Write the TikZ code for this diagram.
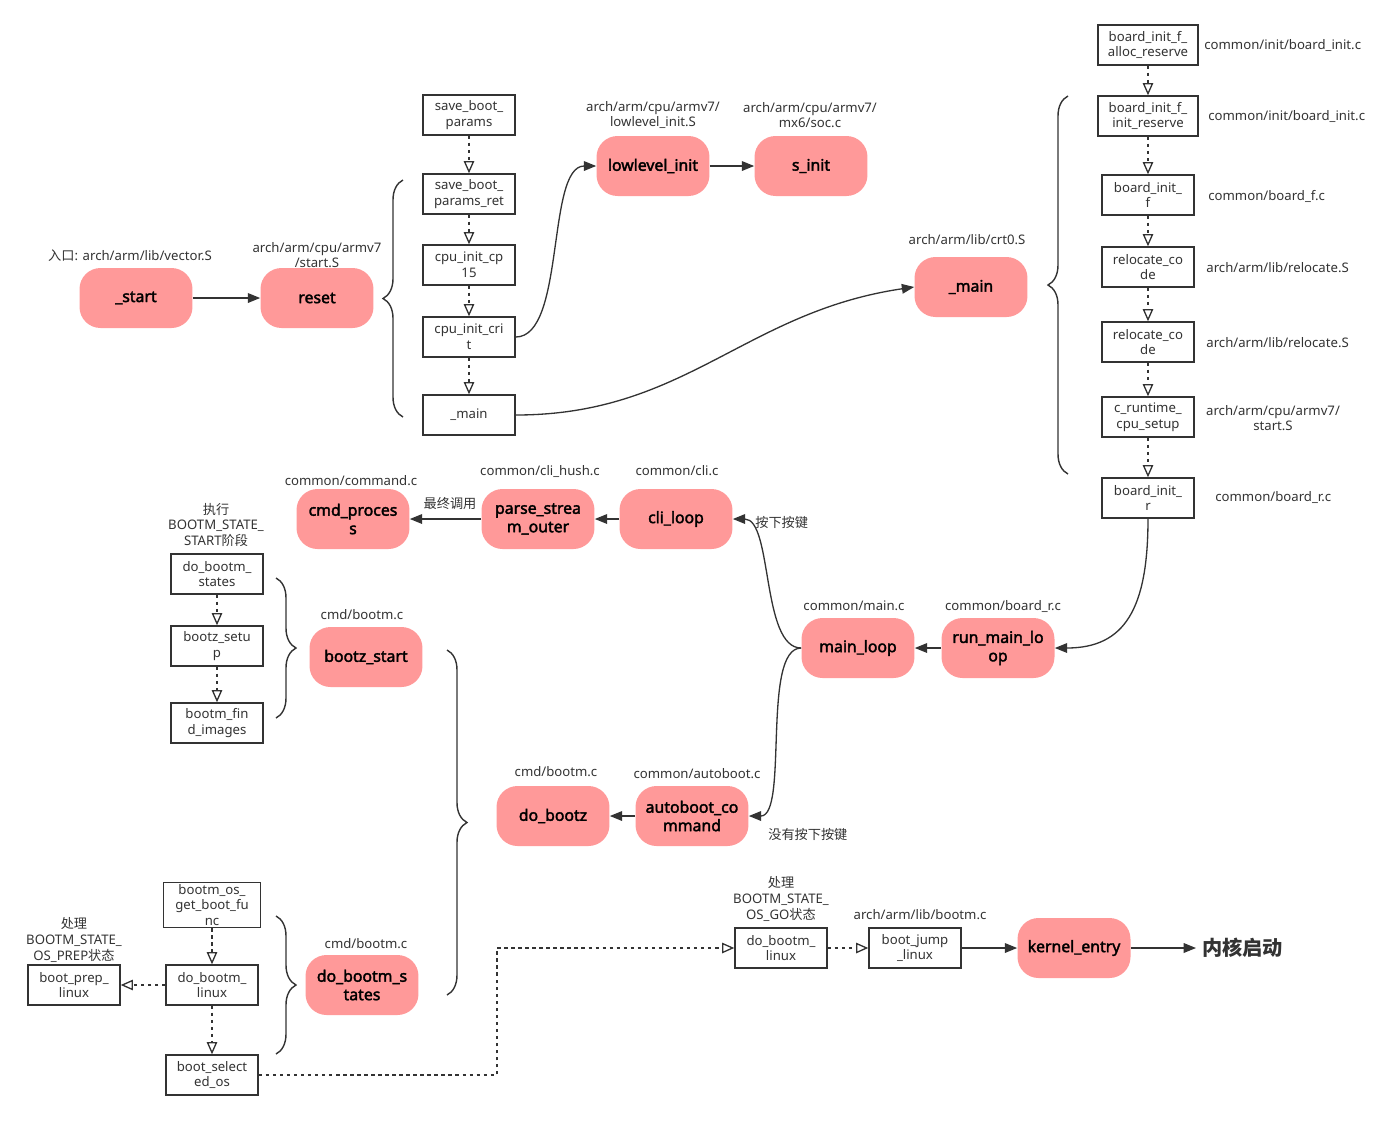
\documentclass[tikz,border=0pt]{standalone}
\usepackage{fontspec}
\setmainfont{Noto Sans}[AutoFakeBold=2.2]
\newfontfamily\cjk{Noto Sans CJK SC}
\usetikzlibrary{arrows.meta,decorations.pathreplacing}

\definecolor{nodepink}{HTML}{FF9999}
\definecolor{linegray}{HTML}{333333}
\definecolor{txtgray}{HTML}{333333}

\tikzset{
	func/.style={fill=nodepink, rounded corners=0.42cm, minimum width=2.26cm, minimum height=1.2cm, align=center, font=\fontsize{9}{10.5}\selectfont\bfseries, text=black, inner sep=1pt},
	fbox/.style={draw=linegray, line width=0.8pt, fill=white, minimum width=1.84cm, minimum height=0.8cm, align=center, font=\fontsize{7.5}{9}\selectfont, text=txtgray, inner sep=1pt},
	note/.style={align=center, font=\fontsize{7.5}{9}\selectfont, text=txtgray, inner sep=0pt},
	call/.style={draw=linegray, line width=0.75pt, -{Triangle[length=7pt,width=5.5pt]}},
	sub/.style={draw=linegray, line width=0.75pt, dash pattern=on 2pt off 2pt, -{Triangle[open,length=7pt,width=6pt]}},
	grp/.style={draw=linegray, line width=0.8pt, decorate, decoration={brace,amplitude=0.4cm}}
}

\begin{document}
\begin{tikzpicture}[x=0.02cm, y=-0.02cm]
		\useasboundingbox (0,0) rectangle (1400,1120);

		\node[func] (start)    at (136,298)  {\_start};
		\node[func] (reset)    at (317,298)  {reset};
		\node[func] (llinit)   at (653,166)  {lowlevel\_init};
		\node[func] (sinit)    at (811,166)  {s\_init};
		\node[func] (mainpink) at (971,287)  {\_main};
		\node[func] (cmdproc)  at (353,519)  {cmd\_proces\\s};
		\node[func] (parse)    at (538,519)  {parse\_strea\\m\_outer};
		\node[func] (cliloop)  at (676,519)  {cli\_loop};
		\node[func] (bzstart)  at (366,657)  {bootz\_start};
		\node[func] (mainloop) at (858,648)  {main\_loop};
		\node[func] (runml)    at (998,648)  {run\_main\_lo\\op};
		\node[func] (dobootz)  at (553,816)  {do\_bootz};
		\node[func] (autoboot) at (692,816)  {autoboot\_co\\mmand};
		\node[func] (dbstates) at (362,985)  {do\_bootm\_s\\tates};
		\node[func] (kentry)   at (1074,948) {kernel\_entry};

		\node[fbox] (sbp)      at (469,115)  {save\_boot\_\\params};
		\node[fbox] (sbpr)     at (469,194)  {save\_boot\_\\params\_ret};
		\node[fbox] (cp15)     at (469,265)  {cpu\_init\_cp\\15};
		\node[fbox] (crit)     at (469,337)  {cpu\_init\_cri\\t};
		\node[fbox] (mainbox)  at (469,415)  {\_main};

		\node[fbox, minimum width=2cm] (allocres) at (1148,45)  {board\_init\_f\_\\alloc\_reserve};
		\node[fbox, minimum width=2cm] (initres)  at (1148,116) {board\_init\_f\_\\init\_reserve};
		\node[fbox] (bif)      at (1148,195) {board\_init\_\\f};
		\node[fbox] (relocA)   at (1148,267) {relocate\_co\\de};
		\node[fbox] (relocB)   at (1148,342) {relocate\_co\\de};
		\node[fbox] (crt)      at (1148,417) {c\_runtime\_\\cpu\_setup};
		\node[fbox] (bir)      at (1148,498) {board\_init\_\\r};

		\node[fbox] (dbs)      at (217,574)  {do\_bootm\_\\states};
		\node[fbox] (bzsetup)  at (217,646)  {bootz\_setu\\p};
		\node[fbox] (findimg)  at (217,723)  {bootm\_fin\\d\_images};

		\node[fbox, minimum width=1.94cm, minimum height=0.9cm, inner ysep=-1pt] (getfunc) at (212,905) {bootm\_os\_\\get\_boot\_fu\\nc};
		\node[fbox] (linuxprep) at (212,985) {do\_bootm\_\\linux};
		\node[fbox] (prep)      at (74,985)  {boot\_prep\_\\linux};
		\node[fbox] (selos)     at (212,1075) {boot\_select\\ed\_os};
		\node[fbox] (golinux)   at (781,948) {do\_bootm\_\\linux};
		\node[fbox] (jump)      at (915,948) {boot\_jump\\\_linux};

		\node[font=\fontsize{11.5}{13}\selectfont\cjk\bfseries, text=txtgray, anchor=west] (boot) at (1196,948) {内核启动};

		\node[note] (nstart)  at (130,256)  {{\cjk 入口}: arch/arm/lib/vector.S};
		\node[note] (nreset)  at (317,255)  {arch/arm/cpu/armv7\\/start.S};
		\node[note] (nllinit) at (653,115)  {arch/arm/cpu/armv7/\\lowlevel\_init.S};
		\node[note] (nsinit)  at (810,115)  {arch/arm/cpu/armv7/\\mx6/soc.c};
		\node[note] (nmain)   at (967,240)  {arch/arm/lib/crt0.S};
		\node[note, anchor=west] (nalloc) at (1204,46)  {common/init/board\_init.c};
		\node[note, anchor=west] (ninit)  at (1208,117) {common/init/board\_init.c};
		\node[note, anchor=west] (nbif)   at (1208,196) {common/board\_f.c};
		\node[note, anchor=west] (nrelA)  at (1206,268) {arch/arm/lib/relocate.S};
		\node[note, anchor=west] (nrelB)  at (1206,343) {arch/arm/lib/relocate.S};
		\node[note] (ncrt)    at (1273,418) {arch/arm/cpu/armv7/\\start.S};
		\node[note, anchor=west] (nbir)   at (1215,497) {common/board\_r.c};
		\node[note] (ncmd)    at (351,481)  {common/command.c};
		\node[note] (nparse)  at (540,471)  {common/cli\_hush.c};
		\node[note] (ncli)    at (677,471)  {common/cli.c};
		\node[note] (nfinal)  at (450,504)  {\cjk 最终调用};
		\node[note, anchor=west] (npress) at (755,522) {\cjk 按下按键};
		\node[note] (nstage)  at (216,525)  {{\cjk 执行}\\BOOTM\_STATE\_\\START{\cjk 阶段}};
		\node[note] (nbz)     at (362,615)  {cmd/bootm.c};
		\node[note] (nml)     at (854,606)  {common/main.c};
		\node[note] (nrun)    at (1003,606) {common/board\_r.c};
		\node[note] (ndobz)   at (556,772)  {cmd/bootm.c};
		\node[note] (nauto)   at (697,774)  {common/autoboot.c};
		\node[note, anchor=west] (nnokey) at (768,834) {\cjk 没有按下按键};
		\node[note] (nprep)   at (74,940)   {{\cjk 处理}\\BOOTM\_STATE\_\\OS\_PREP{\cjk 状态}};
		\node[note] (ndbs)    at (366,944)  {cmd/bootm.c};
		\node[note] (ngo)     at (781,899)  {{\cjk 处理}\\BOOTM\_STATE\_\\OS\_GO{\cjk 状态}};
		\node[note] (njump)   at (920,915)  {arch/arm/lib/bootm.c};

		\coordinate (turn) at (497,1010);

		\draw[call] (start) -- (reset);
		\draw[sub] (sbp) -- (sbpr);
		\draw[sub] (sbpr) -- (cp15);
		\draw[sub] (cp15) -- (crit);
		\draw[sub] (crit) -- (mainbox);
		\draw[call] (crit.east) .. controls +(50,0) and +(-50,0) .. (llinit.west);
		\draw[call] (llinit) -- (sinit);
		\draw[call] (mainbox.east) .. controls +(170,0) and +(-170,25) .. (mainpink.west);

		\draw[sub] (allocres) -- (initres);
		\draw[sub] (initres) -- (bif);
		\draw[sub] (bif) -- (relocA);
		\draw[sub] (relocA) -- (relocB);
		\draw[sub] (relocB) -- (crt);
		\draw[sub] (crt) -- (bir);

		\draw[call] (bir.south) .. controls +(0,90) and +(70,0) .. (runml.east);
		\draw[call] (runml) -- (mainloop);
		\draw[call] (mainloop.west) .. controls +(-40,0) and +(40,0) .. (cliloop.east);
		\draw[call] (mainloop.west) .. controls +(-40,0) and +(40,0) .. (autoboot.east);
		\draw[call] (cliloop) -- (parse);
		\draw[call] (parse) -- (cmdproc);
		\draw[call] (autoboot) -- (dobootz);

		\draw[sub] (dbs) -- (bzsetup);
		\draw[sub] (bzsetup) -- (findimg);
		\draw[sub] (getfunc) -- (linuxprep);
		\draw[sub] (linuxprep) -- (prep);
		\draw[sub] (linuxprep) -- (selos);
		\draw[sub] (selos.east) -| (turn) |- (golinux.west);
		\draw[sub] (golinux) -- (jump);
		\draw[call] (jump) -- (kentry);
		\draw[call] (kentry) -- (boot);

		\draw[grp] (403,417) -- (403,180);
		\draw[grp] (1068,474) -- (1068,96);
		\draw[grp] (276,578) -- (276,718);
		\draw[grp] (447,650) -- (447,995);
		\draw[grp] (276,916) -- (276,1054);

	\end{tikzpicture}
\end{document}
